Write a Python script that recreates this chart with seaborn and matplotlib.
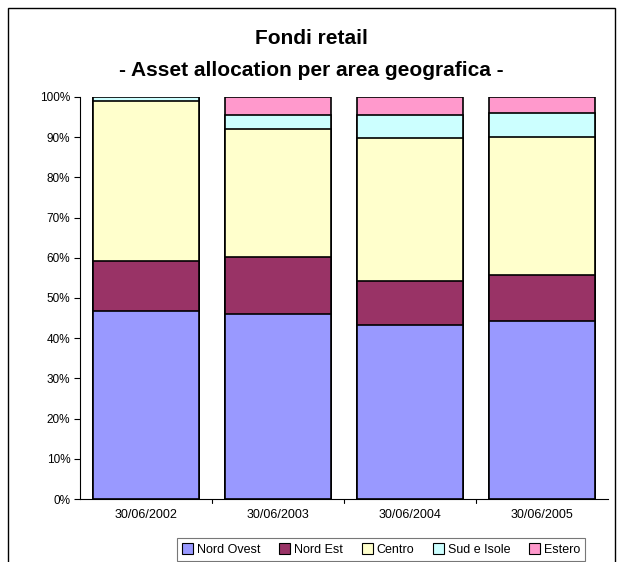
import matplotlib
matplotlib.use("Agg")
import matplotlib.pyplot as plt
import seaborn as sns
import pandas as pd
import numpy as np
from matplotlib.patches import Rectangle, Patch
from matplotlib.ticker import PercentFormatter

dates = ["30/06/2002", "30/06/2003", "30/06/2004", "30/06/2005"]
series_names = ["Nord Ovest", "Nord Est", "Centro", "Sud e Isole", "Estero"]
nord_ovest = [46.8, 45.9, 43.3, 44.4]
nord_est = [12.4, 14.4, 10.9, 11.4]
centro = [39.8, 31.8, 35.5, 34.2]
sud_isole = [0.9, 3.4, 5.8, 6.0]
estero = [0.1, 4.5, 4.5, 4.0]
colors = ["#9999FF", "#993366", "#FFFFCC", "#CCFFFF", "#FF99CC"]

sns.set_theme(style="white")
plt.rcParams['font.family'] = ['Liberation Sans', 'DejaVu Sans']
plt.rcParams['text.color'] = 'black'
plt.rcParams['xtick.color'] = 'black'
plt.rcParams['ytick.color'] = 'black'

values = [nord_ovest, nord_est, centro, sud_isole, estero]
cum = np.cumsum(np.array(values), axis=0)

fig = plt.figure(figsize=(6.22, 5.62), dpi=100)
ax = fig.add_axes([80/622, 1-499/562, 528/622, 402/562])

for i in reversed(range(len(series_names))):
    df = pd.DataFrame({"date": dates, "value": cum[i]})
    sns.barplot(data=df, x="date", y="value", color=colors[i], width=0.8,
                edgecolor="black", linewidth=1.2, saturation=1, ax=ax)

ax.set_ylim(0, 100)
ax.set_xlim(-0.5, 3.5)
ax.set_yticks(np.arange(0, 101, 10))
ax.yaxis.set_major_formatter(PercentFormatter(decimals=0))
ax.set_xlabel("")
ax.set_ylabel("")
ax.tick_params(axis='x', labelsize=9, colors='black', length=0, pad=7)
ax.tick_params(axis='y', labelsize=8.5, colors='black', length=4, left=True,
               direction='out', width=0.8, pad=3)
ax.set_xticks([0, 1, 2, 3])
ax.set_xticklabels(dates)
for x in [0.5, 1.5, 2.5]:
    ax.plot([x, x], [0, -1.0], color='black', lw=0.8, clip_on=False)
for s in ["top", "right"]:
    ax.spines[s].set_visible(False)
for s in ["left", "bottom"]:
    ax.spines[s].set_color("black")
    ax.spines[s].set_linewidth(0.8)

fig.text(0.5, 1-38/562, "Fondi retail", ha='center', va='center',
         fontsize=15, fontweight='bold', color='black')
fig.text(0.5, 1-70/562, "- Asset allocation per area geografica -", ha='center',
         va='center', fontsize=15, fontweight='bold', color='black')

handles = [Patch(facecolor=c, edgecolor='black', linewidth=0.8) for c in colors]
leg = fig.legend(handles, series_names, loc='upper center',
                 bbox_to_anchor=(381/622, 1-532/562), ncol=5, fontsize=9,
                 frameon=True, fancybox=False, edgecolor='#555555',
                 handlelength=0.9, handleheight=0.9, handletextpad=0.3,
                 columnspacing=1.5, borderpad=0.4)
leg.get_frame().set_linewidth(0.8)
for t in leg.get_texts():
    t.set_color('black')

fig.patches.append(Rectangle((8/622, -0.02), 607/622, 1-8/562+0.02,
                             transform=fig.transFigure, fill=False,
                             edgecolor='black', linewidth=1.0))

fig.savefig("out.png", dpi=100, facecolor='white')
